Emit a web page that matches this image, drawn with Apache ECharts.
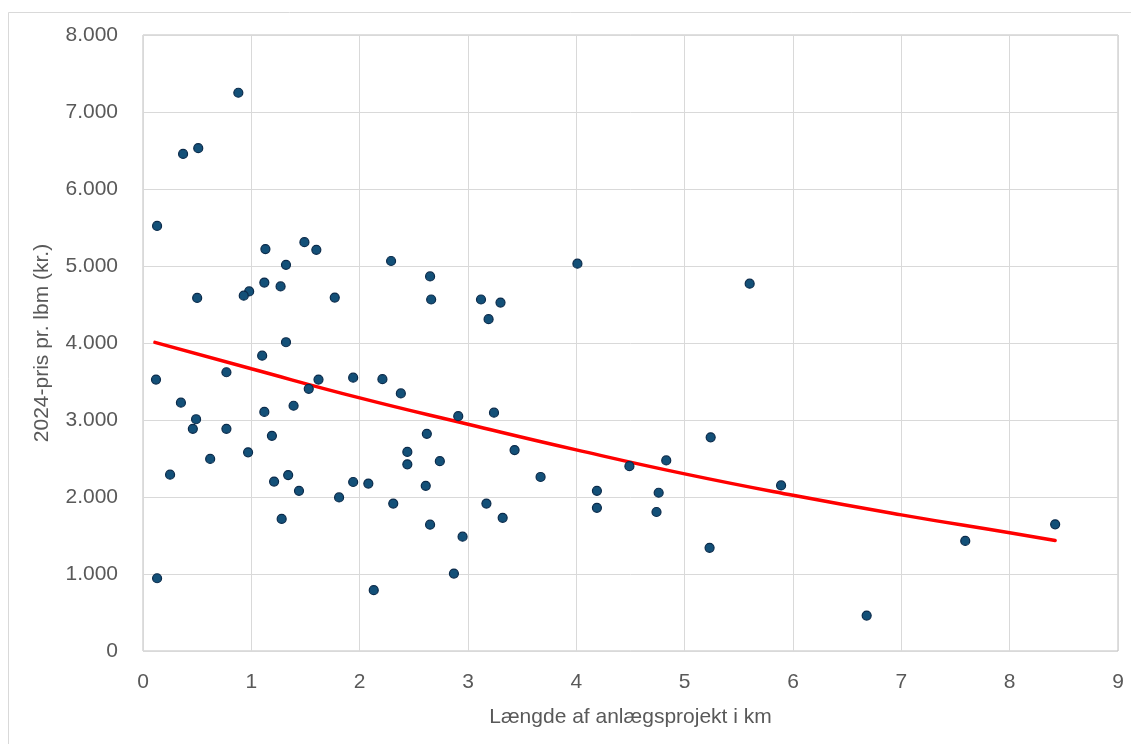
<!DOCTYPE html>
<html>
<head>
<meta charset="utf-8">
<script src="https://cdn.jsdelivr.net/npm/echarts@6/dist/echarts.min.js"></script>
<style>
html,body{margin:0;padding:0;background:#fff;}
#c{width:1131px;height:744px;}
</style>
</head>
<body>
<div id="c"></div>
<script>
// Project length (km) and 2024 price per metre (kr.)
var lengthKm = [0.88,0.37,0.51,0.13,1.13,1.49,1.60,1.32,1.12,1.27,0.98,0.93,0.50,1.77,
  0.12,0.77,1.10,1.32,1.62,1.53,1.94,2.21,0.35,0.49,0.46,0.77,1.12,1.39,1.19,0.62,0.97,
  0.25,1.21,1.34,1.44,1.81,1.94,2.08,1.28,0.13,2.13,2.29,2.65,2.66,3.12,3.30,3.19,4.01,
  2.38,2.91,3.24,2.62,2.44,2.44,2.74,3.43,2.61,3.67,4.19,4.19,2.31,3.17,3.32,2.65,2.95,
  2.87,5.60,5.24,4.83,4.49,4.76,4.74,5.23,5.89,7.59,8.42,6.68];
var pricePerM = [7250,6455,6530,5520,5220,5310,5210,5015,4785,4735,4670,4615,4585,4590,
  3525,3620,3835,4010,3525,3405,3550,3530,3225,3010,2885,2885,3105,3185,2795,2495,2580,
  2290,2200,2285,2080,1995,2195,2175,1715,945,790,5065,4865,4565,4565,4525,4310,5030,
  3345,3050,3095,2820,2585,2425,2465,2610,2145,2260,2080,1860,1915,1915,1730,1640,1485,
  1005,4770,2775,2475,2400,2055,1805,1340,2150,1430,1645,460];
// Trend line
var trendX = [0.11,1,2,3,4,5,6,7,8,8.42];
var trendY = [4008,3665,3287,2945,2612,2300,2022,1768,1535,1436];
var xTicks = {min:0,max:9,interval:1};
var yTicks = {min:0,max:8000,interval:1000};
var xTitle = 'Længde af anlægsprojekt i km';
var yTitle = '2024-pris pr. lbm (kr.)';

var scatterData = lengthKm.map(function(x,i){return [x,pricePerM[i]];});
var trendData = trendX.map(function(x,i){return [x,trendY[i]];});
function fmt(v){return String(v).replace(/\B(?=(\d{3})+(?!\d))/g,'.');}
var FONT = '"Liberation Sans", Arial, sans-serif';
var TXT = '#595959';

var chart = echarts.init(document.getElementById('c'), null, {renderer:'canvas'});
chart.setOption({
  animation:false,
  backgroundColor:'#fff',
  graphic:[{type:'rect',shape:{x:8.5,y:12.5,width:1200,height:800},
    style:{fill:'none',stroke:'#d9d9d9',lineWidth:1},silent:true,z:-10}],
  grid:{left:143,right:13,top:35,bottom:93,show:true,borderColor:'#bfbfbf',borderWidth:1,backgroundColor:'transparent'},
  xAxis:{type:'value',min:xTicks.min,max:xTicks.max,interval:xTicks.interval,
    name:xTitle,nameLocation:'middle',nameGap:56,
    nameTextStyle:{color:TXT,fontSize:21,fontFamily:FONT},
    axisLine:{show:false},axisTick:{show:false},
    axisLabel:{color:TXT,fontSize:21,fontFamily:FONT,margin:21},
    splitLine:{show:true,lineStyle:{color:'#d9d9d9',width:1}}},
  yAxis:{type:'value',min:yTicks.min,max:yTicks.max,interval:yTicks.interval,
    name:yTitle,nameLocation:'middle',nameGap:90,
    nameTextStyle:{color:TXT,fontSize:21,fontFamily:FONT},
    axisLine:{show:false},axisTick:{show:false},
    axisLabel:{color:TXT,fontSize:21,fontFamily:FONT,margin:25,formatter:fmt},
    splitLine:{show:true,lineStyle:{color:'#d9d9d9',width:1}}},
  series:[
    {type:'line',data:trendData,smooth:true,symbol:'none',z:3,
      lineStyle:{color:'#ff0000',width:3.5,cap:'round'}},
    {type:'scatter',data:scatterData,symbol:'circle',symbolSize:9,z:4,
      itemStyle:{color:'#135078',borderColor:'#0b2b4b',borderWidth:1.2,opacity:1}}
  ]
});
</script>
</body>
</html>
